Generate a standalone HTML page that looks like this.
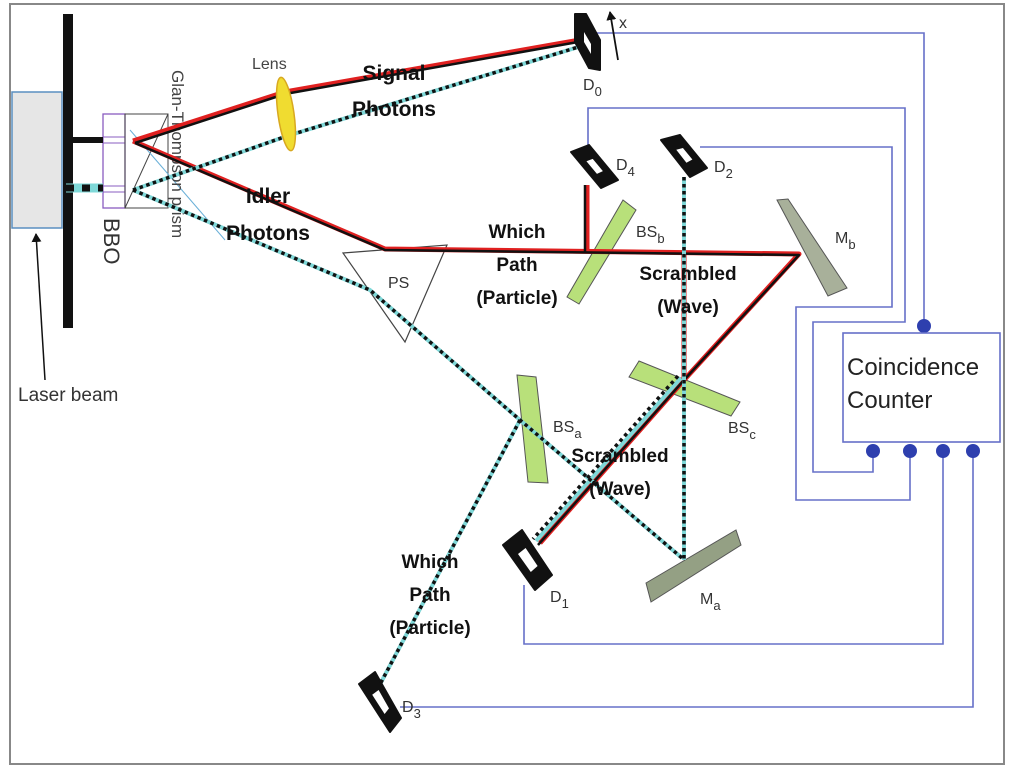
<!DOCTYPE html>
<html><head><meta charset="utf-8"><style>
html,body{margin:0;padding:0;background:#fff;}
svg{display:block;}
text{font-family:"Liberation Sans","DejaVu Sans",sans-serif;}
.b{font-weight:bold;font-size:21px;fill:#111;}
.l{font-size:16px;fill:#333;}
</style></head><body>
<svg width="1010" height="770" viewBox="0 0 1010 770" xmlns="http://www.w3.org/2000/svg">
<defs>
<marker id="ah" markerWidth="10" markerHeight="10" refX="8" refY="5" orient="auto" markerUnits="userSpaceOnUse"><path d="M0,0 L9,5 L0,10 Z" fill="#111"/></marker>
</defs>
<rect x="10" y="4" width="994" height="760" fill="#fff" stroke="#888" stroke-width="2"/>
<g fill="none" stroke="#6670c8" stroke-width="1.6">
<polyline points="592,33 924,33 924,320"/>
<polyline points="588,160 588,108 905,108 905,322 813,322 813,472 873,472 873,452"/>
<polyline points="700,147 892,147 892,307 796,307 796,500 910,500 910,452"/>
<polyline points="524,585 524,644 943,644 943,455"/>
<polyline points="400,707 973,707 973,455"/>
</g>
<g fill="#2e3fae">
<circle cx="924" cy="326" r="7"/>
<circle cx="873" cy="451" r="7"/><circle cx="910" cy="451" r="7"/><circle cx="943" cy="451" r="7"/><circle cx="973" cy="451" r="7"/>
</g>
<rect x="843" y="333" width="157" height="109" fill="#fff" stroke="#6670c8" stroke-width="1.6"/>
<text x="847" y="375" font-size="24" fill="#222">Coincidence</text>
<text x="847" y="408" font-size="24" fill="#222">Counter</text>
<rect x="12" y="92" width="50" height="136" fill="#e6e6e6" stroke="#5a8fc0" stroke-width="1.5"/>
<rect x="63" y="14" width="10" height="314" fill="#111"/>
<line x1="45" y1="380" x2="36" y2="234" stroke="#111" stroke-width="1.5" marker-end="url(#ah)"/>
<text x="18" y="401" font-size="19" fill="#333">Laser beam</text>
<g stroke="#555" stroke-width="1">
<polygon points="623,200 636,210 579,304 567,297" fill="#b8e07a"/>
<polygon points="517,375 536,377 548,483 528,482" fill="#b8e07a"/>
<polygon points="639,361 740,402 731,416 629,377" fill="#b8e07a"/>
<polygon points="777,200 788,199 847,288 828,296" fill="#a8b09a"/>
<polygon points="646,583 736,530 741,545 651,602" fill="#94a084"/>
</g>
<polygon points="343,253 447,245 405,342" fill="#fff" stroke="#444" stroke-width="1.2"/>
<text x="388" y="288" class="l">PS</text>
<rect x="103" y="114" width="22" height="94" fill="none" stroke="#8a5cc0" stroke-width="1.3"/>
<line x1="103" y1="137" x2="125" y2="137" stroke="#8a5cc0"/><line x1="103" y1="143" x2="125" y2="143" stroke="#8a5cc0"/>
<line x1="103" y1="186" x2="125" y2="186" stroke="#8a5cc0"/><line x1="103" y1="192" x2="125" y2="192" stroke="#8a5cc0"/>
<g fill="none" stroke="#444" stroke-width="1">
<rect x="125" y="114" width="43" height="94"/>
<line x1="168" y1="114" x2="125" y2="208"/>
</g>
<line x1="130" y1="130" x2="225" y2="240" stroke="#6ab0d8" stroke-width="1"/>
<text transform="translate(104,218) rotate(90)" font-size="22" fill="#333">BBO</text>
<text transform="translate(172,70) rotate(90)" font-size="17" fill="#444">Glan-Thompson prism</text>
<g fill="none" stroke-linejoin="round">
<g stroke="#e02020" stroke-width="5">
<polyline points="66,140 103,140"/>
<polyline points="133,141 285,92 580,40"/>
<polyline points="133,141 385,249 799,254 684,380 540,543"/>
<polyline points="587,252 587,185"/>
<polyline points="684,253 684,380"/>
</g>
<g stroke="#111" stroke-width="2.5">
<polyline points="66,140 103,140" stroke-width="6"/>
<polyline points="135,143 285,94 578,42"/>
<polyline points="135,143 385,250 799,255 684,380 538,545"/>
<polyline points="585,252 585,185"/>
</g>
<g stroke="#7fd8d8" stroke-width="4">
<polyline points="66,188 103,188" stroke-width="9"/>
<polyline points="133,190 287,136 585,45"/>
<polyline points="133,190 370,290 520,420 682,558"/>
<polyline points="520,420 377,690"/>
<polyline points="684,177 684,560"/>
<polyline points="681,378 536,541"/>
</g>
<g stroke="#111" stroke-width="3.5" stroke-dasharray="3.5,3.5">
<polyline points="66,188 103,188" stroke-width="7" stroke-dasharray="8,8"/>
<polyline points="133,190 287,136 585,45"/>
<polyline points="133,190 370,290 520,420 682,558"/>
<polyline points="520,420 377,690"/>
<polyline points="684,177 684,560"/>
<polyline points="678,376 533,539"/>
</g>
</g>
<ellipse cx="286" cy="114" rx="8" ry="37" fill="#f0dc30" stroke="#d8a820" stroke-width="1.5" transform="rotate(-8 286 114)"/>
<text x="252" y="69" font-size="16" fill="#444">Lens</text>
<!-- detectors: black outer + white hole -->
<g fill="#111" stroke="#111" stroke-width="2" stroke-linejoin="round">
<polygon points="575,14 586,14 600,40 600,70 589,68 575,42"/>
<polygon points="571,152 589,145 618,180 601,188"/>
<polygon points="661,140 680,135 707,168 690,177"/>
<polygon points="503,545 522,530 552,575 535,590"/>
<polygon points="359,684 375,672 401,718 390,732"/>
</g>
<g fill="#fff">
<polygon points="584,32 591,44 591,54 584,42"/>
<polygon transform="translate(594.75,166.25) scale(.35,.35) translate(-594.75,-166.25)" points="571,152 589,145 618,180 601,188"/>
<polygon transform="translate(684.5,155) scale(.35,.35) translate(-684.5,-155)" points="661,140 680,135 707,168 690,177"/>
<polygon transform="translate(528,560) scale(.4,.4) translate(-528,-560)" points="503,545 522,530 552,575 535,590"/>
<polygon transform="translate(381,702) scale(.4,.4) translate(-381,-702)" points="359,684 375,672 401,718 390,732"/>
</g>
<line x1="618" y1="60" x2="610" y2="12" stroke="#111" stroke-width="1.8" marker-end="url(#ah)"/>
<text x="619" y="28" font-size="16" fill="#333">x</text>
<g class="l" font-size="17">
<text x="583" y="90">D<tspan font-size="13" dy="6">0</tspan></text>
<text x="616" y="170">D<tspan font-size="13" dy="6">4</tspan></text>
<text x="714" y="172">D<tspan font-size="13" dy="6">2</tspan></text>
<text x="550" y="602">D<tspan font-size="13" dy="6">1</tspan></text>
<text x="402" y="712">D<tspan font-size="13" dy="6">3</tspan></text>
<text x="636" y="237">BS<tspan font-size="13" dy="6">b</tspan></text>
<text x="835" y="243">M<tspan font-size="13" dy="6">b</tspan></text>
<text x="728" y="433">BS<tspan font-size="13" dy="6">c</tspan></text>
<text x="553" y="432">BS<tspan font-size="13" dy="6">a</tspan></text>
<text x="700" y="604">M<tspan font-size="13" dy="6">a</tspan></text>
</g>
<g class="b" text-anchor="middle">
<text x="394" y="80">Signal</text>
<text x="394" y="116">Photons</text>
<text x="268" y="203">Idler</text>
<text x="268" y="240">Photons</text>
<text x="517" y="238" font-size="19">Which</text>
<text x="517" y="271" font-size="19">Path</text>
<text x="517" y="304" font-size="19">(Particle)</text>
<text x="688" y="280" font-size="19">Scrambled</text>
<text x="688" y="313" font-size="19">(Wave)</text>
<text x="620" y="462" font-size="19">Scrambled</text>
<text x="620" y="495" font-size="19">(Wave)</text>
<text x="430" y="568" font-size="19">Which</text>
<text x="430" y="601" font-size="19">Path</text>
<text x="430" y="634" font-size="19">(Particle)</text>
</g>
</svg>
</body></html>
